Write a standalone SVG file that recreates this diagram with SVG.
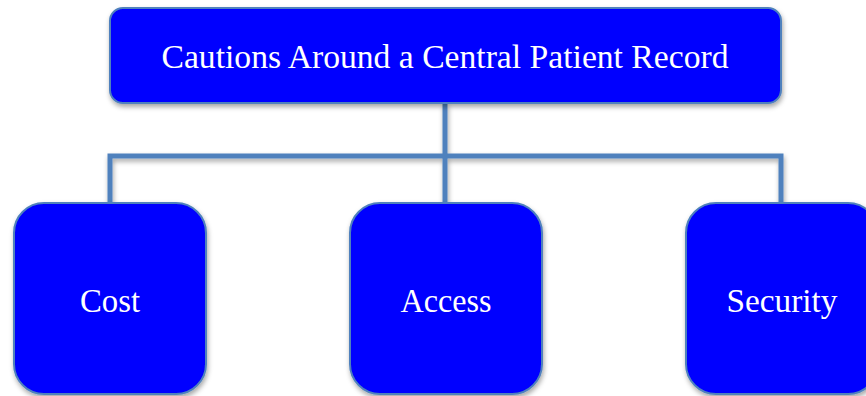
<svg xmlns="http://www.w3.org/2000/svg" width="866" height="396" viewBox="0 0 866 396">
  <defs>
    <filter id="shadow" x="-10%" y="-10%" width="125%" height="130%">
      <feDropShadow dx="1" dy="3" stdDeviation="2.5" flood-color="#000" flood-opacity="0.35"/>
    </filter>
    <style>
      .box { fill: #0000FF; stroke: #4F81BD; stroke-width: 2; filter: url(#shadow); }
      .label { fill: #FFFFFF; font-family: "Liberation Serif", "DejaVu Serif", serif; text-anchor: middle; }
      .conn { fill: none; stroke: #4F81BD; stroke-width: 5; filter: url(#shadow); }
    </style>
  </defs>
  <rect width="866" height="396" fill="#FFFFFF"/>

  <g id="connectors">
    <path class="conn" d="M445,103 V156 M110,203 V156 H781 V203 M445,156 V203"/>
  </g>

  <g id="root">
    <rect class="box" x="110" y="8" width="671" height="95" rx="13"/>
    <text class="label" x="445" y="68" font-size="33" textLength="567" lengthAdjust="spacingAndGlyphs">Cautions Around a Central Patient Record</text>
  </g>

  <g id="cost">
    <rect class="box" x="14" y="203" width="192" height="191" rx="30"/>
    <text class="label" x="110" y="312" font-size="33" textLength="60" lengthAdjust="spacingAndGlyphs">Cost</text>
  </g>

  <g id="access">
    <rect class="box" x="350" y="203" width="192" height="191" rx="30"/>
    <text class="label" x="446" y="312" font-size="33" textLength="91" lengthAdjust="spacingAndGlyphs">Access</text>
  </g>

  <g id="security">
    <rect class="box" x="686" y="203" width="192" height="191" rx="30"/>
    <text class="label" x="782" y="312" font-size="33" textLength="111" lengthAdjust="spacingAndGlyphs">Security</text>
  </g>
</svg>
